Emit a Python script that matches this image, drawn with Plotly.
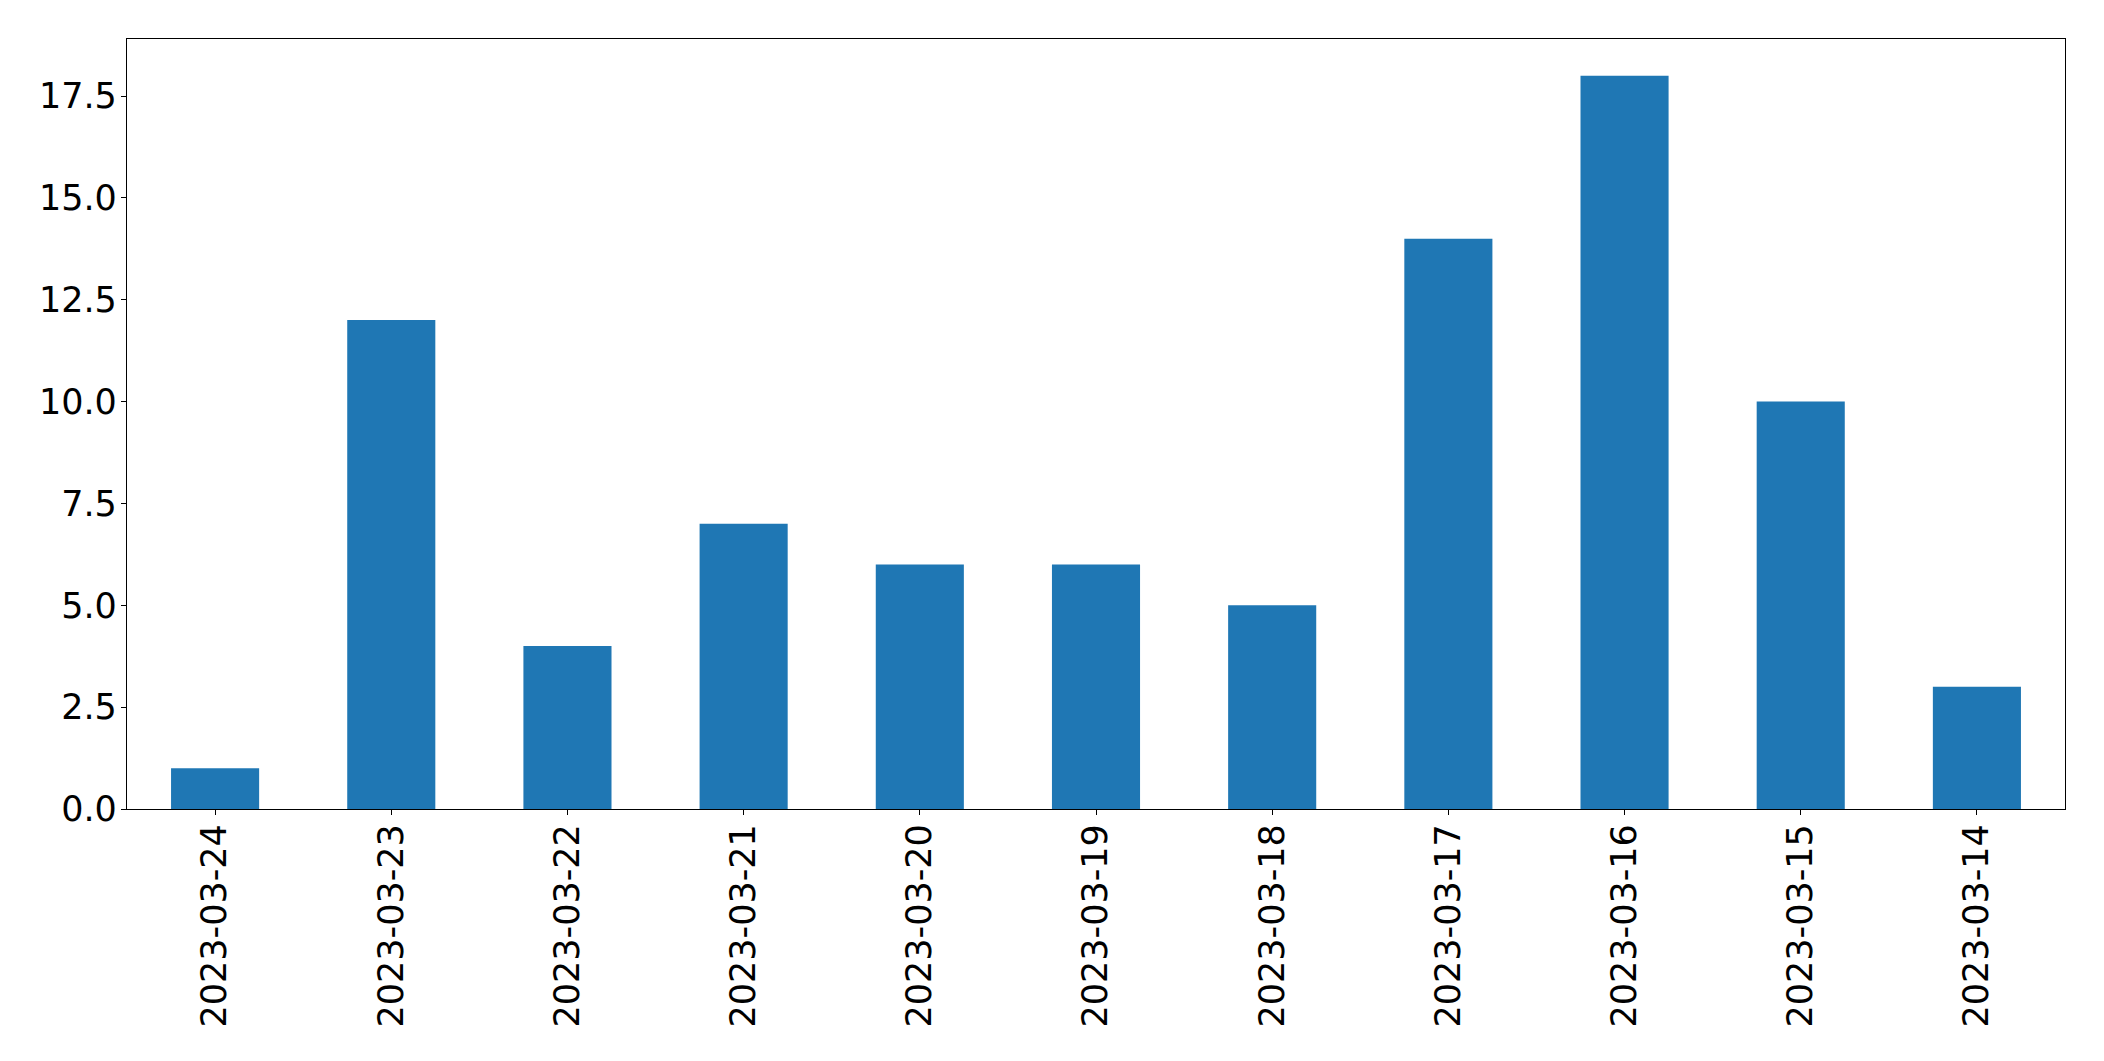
import plotly.graph_objects as go

dates = ["2023-03-24", "2023-03-23", "2023-03-22", "2023-03-21", "2023-03-20",
         "2023-03-19", "2023-03-18", "2023-03-17", "2023-03-16", "2023-03-15",
         "2023-03-14"]
counts = [1, 12, 4, 7, 6, 6, 5, 14, 18, 10, 3]
y_ticks = [0, 2.5, 5, 7.5, 10, 12.5, 15, 17.5]

fig = go.Figure(go.Bar(x=dates, y=counts, marker=dict(color="#1f77b4", line=dict(width=0))))

font = dict(family="DejaVu Sans", size=35, color="black")
fig.update_layout(
    width=2088, height=1045,
    margin=dict(l=119, r=31, t=31, b=244),
    paper_bgcolor="white", plot_bgcolor="white",
    bargap=0.5, showlegend=False, font=font,
)
fig.update_xaxes(type="category", range=[-0.5, 10.5], tickangle=-90,
                 showline=True, linecolor="black", linewidth=1.3, mirror=True,
                 ticks="outside", ticklen=5, tickcolor="black", showgrid=False,
                 tickfont=font, ticklabelstandoff=-5)
fig.update_yaxes(range=[0, 18.9], tickvals=y_ticks, ticktext=[f"{v:.1f}" for v in y_ticks],
                 showline=True, linecolor="black", linewidth=1.3, mirror=True,
                 ticks="outside", ticklen=5, tickcolor="black", showgrid=False,
                 zeroline=False, tickfont=font, ticklabelstandoff=-3)

fig.write_html("out.html")
